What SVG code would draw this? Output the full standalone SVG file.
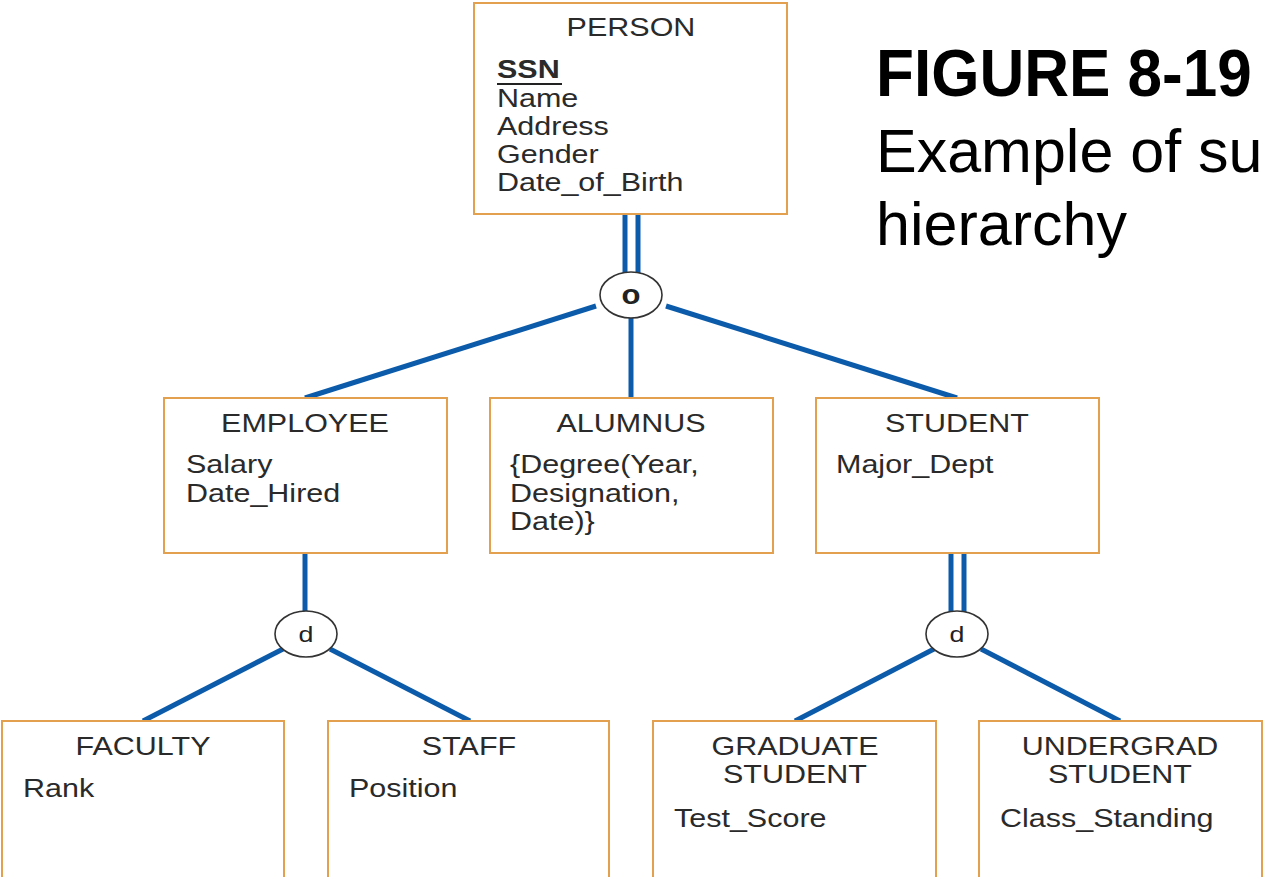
<svg xmlns="http://www.w3.org/2000/svg" width="1268" height="877" viewBox="0 0 1268 877">
<style>
.box{fill:#fff;stroke:#E3A04E;stroke-width:2}
.ln{stroke:#0B5BAA;stroke-width:5;fill:none}
.circ{fill:#fff;stroke:#333;stroke-width:1.6}
.t{font-family:"Liberation Sans",Arial,sans-serif;font-size:25px;fill:#2a2a2a}
.c{text-anchor:middle}
.sym{font-family:"Liberation Sans",Arial,sans-serif;font-size:22px;fill:#222;text-anchor:middle}
.title{font-family:"Liberation Sans",Arial,sans-serif;fill:#000}
</style>
<rect width="1268" height="877" fill="#fff"/>
<g id="connectors">
<line class="ln" x1="625" y1="214" x2="625" y2="274"/>
<line class="ln" x1="638" y1="214" x2="638" y2="274"/>
<line class="ln" x1="596" y1="306" x2="305" y2="398"/>
<line class="ln" x1="631" y1="318" x2="631" y2="398"/>
<line class="ln" x1="666" y1="306" x2="957" y2="398"/>
<line class="ln" x1="305" y1="553" x2="305" y2="612"/>
<line class="ln" x1="283" y1="649" x2="143" y2="721"/>
<line class="ln" x1="330" y1="649" x2="470" y2="721"/>
<line class="ln" x1="951" y1="553" x2="951" y2="612"/>
<line class="ln" x1="964" y1="553" x2="964" y2="612"/>
<line class="ln" x1="934" y1="649" x2="795" y2="721"/>
<line class="ln" x1="981" y1="649" x2="1120" y2="721"/>
</g>
<g id="o-circle">
<ellipse class="circ" cx="631" cy="295" rx="31" ry="23"/>
<text class="sym" style="font-weight:bold;font-size:27px" transform="matrix(1.15,0,0,1,631,304)">o</text>
</g>
<g id="d-employee">
<ellipse class="circ" cx="306" cy="634" rx="31" ry="23"/>
<text class="sym" transform="matrix(1.22,0,0,1,306,642)">d</text>
</g>
<g id="d-student">
<ellipse class="circ" cx="957" cy="634" rx="31" ry="23"/>
<text class="sym" transform="matrix(1.22,0,0,1,957,642)">d</text>
</g>
<g id="person">
<rect class="box" x="474" y="3" width="313" height="211"/>
<text class="t c" transform="matrix(1.22,0,0,1,631,36)">PERSON</text>
<text class="t" style="font-weight:bold" transform="matrix(1.22,0,0,1,497,78)">SSN</text>
<line x1="497" y1="84" x2="562" y2="84" stroke="#222" stroke-width="2"/>
<text class="t" transform="matrix(1.22,0,0,1,497,107)">Name</text>
<text class="t" transform="matrix(1.22,0,0,1,497,135)">Address</text>
<text class="t" transform="matrix(1.22,0,0,1,497,163)">Gender</text>
<text class="t" transform="matrix(1.22,0,0,1,497,191)">Date_of_Birth</text>
</g>
<g id="employee">
<rect class="box" x="164" y="398" width="283" height="155"/>
<text class="t c" transform="matrix(1.22,0,0,1,305,432)">EMPLOYEE</text>
<text class="t" transform="matrix(1.22,0,0,1,186,473)">Salary</text>
<text class="t" transform="matrix(1.22,0,0,1,186,502)">Date_Hired</text>
</g>
<g id="alumnus">
<rect class="box" x="490" y="398" width="283" height="155"/>
<text class="t c" transform="matrix(1.22,0,0,1,631,432)">ALUMNUS</text>
<text class="t" transform="matrix(1.22,0,0,1,510,473)">{Degree(Year,</text>
<text class="t" transform="matrix(1.22,0,0,1,510,502)">Designation,</text>
<text class="t" transform="matrix(1.22,0,0,1,510,530)">Date)}</text>
</g>
<g id="student">
<rect class="box" x="816" y="398" width="283" height="155"/>
<text class="t c" transform="matrix(1.22,0,0,1,957,432)">STUDENT</text>
<text class="t" transform="matrix(1.22,0,0,1,836,473)">Major_Dept</text>
</g>
<g id="faculty">
<rect class="box" x="2" y="721" width="282" height="160"/>
<text class="t c" transform="matrix(1.22,0,0,1,143,755)">FACULTY</text>
<text class="t" transform="matrix(1.22,0,0,1,23,797)">Rank</text>
</g>
<g id="staff">
<rect class="box" x="328" y="721" width="281" height="160"/>
<text class="t c" transform="matrix(1.22,0,0,1,469,755)">STAFF</text>
<text class="t" transform="matrix(1.22,0,0,1,349,797)">Position</text>
</g>
<g id="graduate-student">
<rect class="box" x="653" y="721" width="283" height="160"/>
<text class="t c" transform="matrix(1.22,0,0,1,795,755)">GRADUATE</text>
<text class="t c" transform="matrix(1.22,0,0,1,795,783)">STUDENT</text>
<text class="t" transform="matrix(1.22,0,0,1,674,827)">Test_Score</text>
</g>
<g id="undergrad-student">
<rect class="box" x="979" y="721" width="283" height="160"/>
<text class="t c" transform="matrix(1.22,0,0,1,1120,755)">UNDERGRAD</text>
<text class="t c" transform="matrix(1.22,0,0,1,1120,783)">STUDENT</text>
<text class="t" transform="matrix(1.22,0,0,1,1000,827)">Class_Standing</text>
</g>
<g id="caption">
<text class="title" font-size="66" font-weight="bold" transform="matrix(0.94,0,0,1,876,96)">FIGURE 8-19</text>
<text class="title" x="876" y="172" font-size="61">Example of su</text>
<text class="title" x="876" y="245" font-size="61">hierarchy</text>
</g>
</svg>
